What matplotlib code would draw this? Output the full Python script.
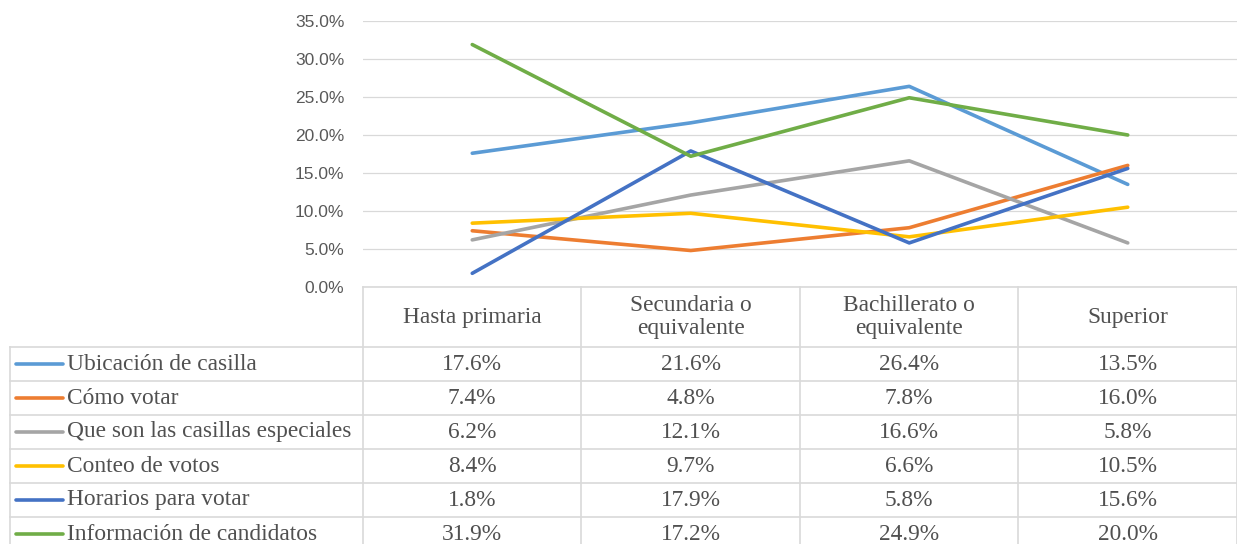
import matplotlib
matplotlib.use("Agg")
import matplotlib.pyplot as plt
from matplotlib.ticker import PercentFormatter

# data
categories = ["Hasta primaria", "Secundaria o\nequivalente", "Bachillerato o\nequivalente", "Superior"]
series_names = ["Ubicación de casilla", "Cómo votar", "Que son las casillas especiales",
                "Conteo de votos", "Horarios para votar", "Información de candidatos"]
ubicacion = [17.6, 21.6, 26.4, 13.5]
como_votar = [7.4, 4.8, 7.8, 16.0]
especiales = [6.2, 12.1, 16.6, 5.8]
conteo = [8.4, 9.7, 6.6, 10.5]
horarios = [1.8, 17.9, 5.8, 15.6]
candidatos = [31.9, 17.2, 24.9, 20.0]
colors = ["#5B9BD5", "#ED7D31", "#A5A5A5", "#FFC000", "#4472C4", "#70AD47"]
y_ticks = [0, 5, 10, 15, 20, 25, 30, 35]

all_series = [ubicacion, como_votar, especiales, conteo, horarios, candidatos]

W, H = 1237, 544
fig = plt.figure(figsize=(W / 100, H / 100), dpi=100)

# pixel layout
plot_left, plot_right = 363, 1237
plot_top, plot_bottom = 21, 287
tab_left = 10
col_w = (plot_right - plot_left) / len(categories)

ax = fig.add_axes([plot_left / W, 1 - plot_bottom / H,
                   (plot_right - plot_left) / W, (plot_bottom - plot_top) / H])
x = range(len(categories))
for vals, c in zip(all_series, colors):
    ax.plot(x, vals, color=c, lw=2.6, solid_capstyle="round", zorder=3)
ax.set_xlim(-0.5, len(categories) - 0.5)
ax.set_ylim(0, 35)
ax.set_yticks(y_ticks)
ax.yaxis.set_major_formatter(PercentFormatter(decimals=1))
ax.grid(axis="y", color="#D9D9D9", lw=0.9)
ax.set_axisbelow(True)
for s in ax.spines.values():
    s.set_visible(False)
ax.tick_params(axis="y", length=0, pad=13.5, labelsize=12.5, labelcolor="#595959")
ax.tick_params(axis="x", length=0, labelbottom=False)
for lab in ax.get_yticklabels():
    lab.set_fontfamily("Liberation Sans")

# data table below the plot, sharing the category x units
left_units = (plot_left - tab_left) / col_w
tax = fig.add_axes([tab_left / W, 0, (plot_right - tab_left) / W, 1 - plot_bottom / H])
tax.set_xlim(-0.5 - left_units, len(categories) - 0.5)
tax.set_ylim(H - plot_bottom, 0)
tax.axis("off")

grid_c = "#D9D9D9"
head_h = 60
row_h = 34
n_rows = len(series_names)
bottom_y = head_h + row_h * n_rows
txt_c = "#505050"
font = dict(family="Liberation Serif", fontsize=16.8, color=txt_c)

# horizontal lines
tax.plot([-0.5, len(categories) - 0.5], [0, 0], color=grid_c, lw=1.2, clip_on=False)
for r in range(n_rows + 1):
    yy = head_h + r * row_h
    tax.plot([-0.5 - left_units, len(categories) - 0.5], [yy, yy], color=grid_c, lw=1.2, clip_on=False)
# vertical lines
for k in range(len(categories) + 1):
    xx = k - 0.5
    tax.plot([xx, xx], [0, bottom_y], color=grid_c, lw=1.2, clip_on=False)
tax.plot([-0.5 - left_units] * 2, [head_h, bottom_y], color=grid_c, lw=1.2, clip_on=False)

for i, cat in enumerate(categories):
    tax.text(i, head_h / 2, cat, ha="center", va="center", linespacing=1.1, **font)

key_x0 = -0.5 - left_units + 6 / col_w
key_x1 = key_x0 + 47 / col_w
for r, (name, vals, c) in enumerate(zip(series_names, all_series, colors)):
    yc = head_h + r * row_h + row_h / 2
    tax.plot([key_x0, key_x1], [yc, yc], color=c, lw=2.6, solid_capstyle="round", clip_on=False)
    tax.text(key_x1 + 4 / col_w, yc, name, ha="left", va="center", **font)
    for i, v in enumerate(vals):
        tax.text(i, yc, f"{v:.1f}%", ha="center", va="center", **font)

fig.savefig("out.png", dpi=100, facecolor="white")
